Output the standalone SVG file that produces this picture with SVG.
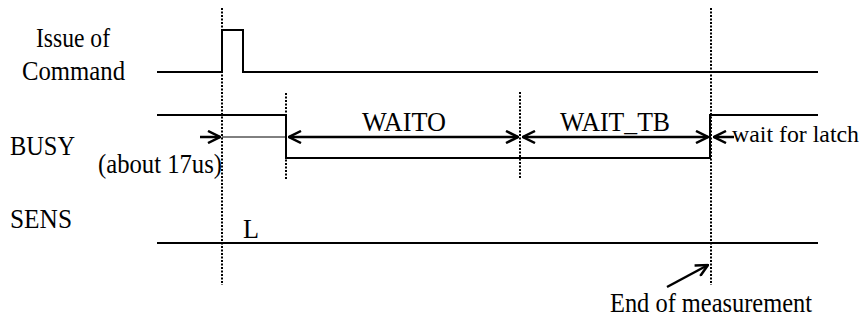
<svg xmlns="http://www.w3.org/2000/svg" width="866" height="320" viewBox="0 0 866 320">
<style>
  .sig { fill: none; stroke: #000; stroke-width: 2; }
  .dot { fill: none; stroke: #000; stroke-width: 2; stroke-dasharray: 2 1.5; }
  .arr { fill: none; stroke: #000; stroke-width: 2.5; }
  .thin { fill: none; stroke: #000; stroke-width: 1; }
  text { font-family: "Liberation Serif", "Times New Roman", serif; font-size: 28px; fill: #000; }
</style>
<defs>
  <marker id="head" viewBox="0 0 14 14" refX="13" refY="7" markerWidth="14" markerHeight="14" markerUnits="userSpaceOnUse" orient="auto-start-reverse">
    <path d="M1,1 L13,7 L1,13" fill="none" stroke="#000" stroke-width="2.5"/>
  </marker>
</defs>
<rect width="866" height="320" fill="#fff"/>

<g id="guides">
  <line class="dot" x1="222" y1="8" x2="222" y2="285"/>
  <line class="dot" x1="286" y1="93" x2="286" y2="179"/>
  <line class="dot" x1="520" y1="92" x2="520" y2="178"/>
  <line class="dot" x1="711" y1="8" x2="711" y2="285"/>
</g>

<g id="command">
  <text x="36" y="47" textLength="74" lengthAdjust="spacingAndGlyphs">Issue of</text>
  <text x="22" y="80" textLength="103" lengthAdjust="spacingAndGlyphs">Command</text>
  <polyline class="sig" points="157,72 222,72 222,30 243,30 243,72 818,72"/>
</g>

<g id="busy">
  <text x="10" y="155" textLength="65" lengthAdjust="spacingAndGlyphs">BUSY</text>
  <text x="98" y="173" textLength="124" lengthAdjust="spacingAndGlyphs">(about 17us)</text>
  <polyline class="sig" points="157,115 286,115 286,158 710,158 710,115 818,115"/>
</g>

<g id="sens">
  <text x="10" y="228" textLength="62" lengthAdjust="spacingAndGlyphs">SENS</text>
  <text x="243" y="238" textLength="16" lengthAdjust="spacingAndGlyphs">L</text>
  <line class="sig" x1="157" y1="243" x2="818" y2="243"/>
</g>

<g id="labels">
  <text x="362" y="131" textLength="84" lengthAdjust="spacingAndGlyphs">WAITO</text>
  <text x="560" y="131" textLength="110" lengthAdjust="spacingAndGlyphs">WAIT_TB</text>
  <text x="732" y="142" style="font-size:24px" textLength="127" lengthAdjust="spacingAndGlyphs">wait for latch</text>
  <text x="610" y="312" textLength="202" lengthAdjust="spacingAndGlyphs">End of measurement</text>
</g>

<g id="connectors">
  <line class="arr" x1="200" y1="137" x2="220" y2="137" marker-end="url(#head)"/>
  <line class="thin" x1="222" y1="137" x2="286" y2="137"/>
  <line class="arr" x1="289" y1="137" x2="518" y2="137" marker-start="url(#head)" marker-end="url(#head)"/>
  <line class="arr" x1="523" y1="137" x2="708" y2="137" marker-start="url(#head)" marker-end="url(#head)"/>
  <line class="arr" x1="734" y1="137" x2="714" y2="137" marker-end="url(#head)"/>
  <line class="arr" x1="667" y1="287" x2="708" y2="265" marker-end="url(#head)"/>
</g>
</svg>
